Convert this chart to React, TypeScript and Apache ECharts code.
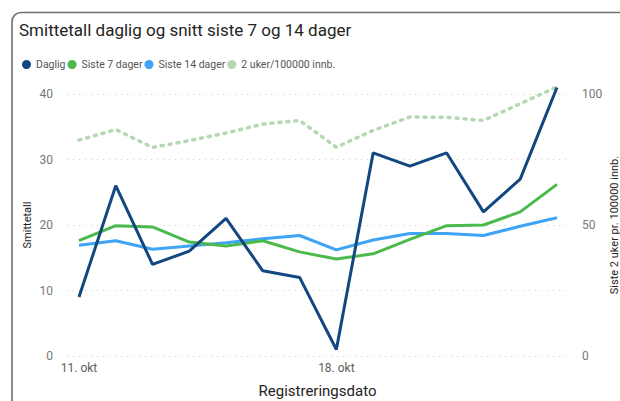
import React, { useEffect, useRef } from "react";
import * as echarts from "echarts";

const days = ["11. okt", "12. okt", "13. okt", "14. okt", "15. okt", "16. okt", "17. okt", "18. okt", "19. okt", "20. okt", "21. okt", "22. okt", "23. okt", "24. okt"];
const daglig = [9, 26, 14, 16, 21, 13, 12, 1, 31, 29, 31, 22, 27, 41];
const siste7 = [17.6, 19.9, 19.7, 17.4, 16.8, 17.6, 15.9, 14.8, 15.6, 17.8, 19.9, 20.0, 22.0, 26.2];
const siste14 = [16.9, 17.6, 16.3, 16.8, 17.3, 17.9, 18.4, 16.2, 17.7, 18.7, 18.7, 18.4, 19.8, 21.1];
const per100k = [82.4, 86.4, 79.6, 82.2, 85.1, 88.5, 89.9, 79.7, 86.1, 91.2, 91.1, 89.9, 96.3, 102.7];
const labelDays = [0, 7];

const FONT = "Roboto";

export default function App() {
  const ref = useRef<HTMLDivElement>(null);
  useEffect(() => {
    if (!ref.current) return;
    const chart = echarts.init(ref.current, null, { renderer: "svg" });
    const pts = (arr: number[]) => arr.map((v, i) => [i, v]);
    chart.setOption({
      animation: false,
      backgroundColor: "#ffffff",
      textStyle: { fontFamily: FONT },
      graphic: [
        {
          type: "rect",
          shape: { x: 12, y: 12.5, width: 640, height: 400, r: 9 },
          style: { fill: "none", stroke: "#6f6f6f", lineWidth: 1.6 },
          silent: true,
        },
      ],
      title: {
        text: "Smittetall daglig og snitt siste 7 og 14 dager",
        left: 14,
        top: 16,
        textStyle: { fontFamily: FONT, fontSize: 17, fontWeight: "normal", color: "#252423" },
      },
      legend: {
        left: 17,
        top: 54,
        icon: "circle",
        itemWidth: 9,
        itemHeight: 9,
        itemGap: 2,
        textStyle: { fontFamily: FONT, fontSize: 10.5, color: "#555555" },
        data: ["Daglig", "Siste 7 dager", "Siste 14 dager", "2 uker/100000 innb."],
      },
      grid: { left: 67, right: 52, top: 94, bottom: 45, outerBoundsMode: "none", containLabel: false },
      xAxis: {
        type: "value",
        min: -0.326,
        max: 13.3,
        name: "Registreringsdato",
        nameLocation: "middle",
        nameGap: 27,
        nameTextStyle: { fontFamily: FONT, fontSize: 15, color: "#252423" },
        axisLine: { show: false },
        axisTick: { show: false },
        splitLine: { show: false },
        axisLabel: {
          customValues: labelDays,
          formatter: (v: number) => days[Math.round(v)] ?? "",
          color: "#605e5c",
          fontSize: 12,
          margin: 6,
        },
      },
      yAxis: [
        {
          type: "value",
          min: 0,
          max: 40,
          interval: 10,
          name: "Smittetall",
          nameLocation: "middle",
          nameGap: 34,
          nameMoveOverlap: false,
          nameTextStyle: { fontFamily: FONT, fontSize: 11, color: "#252423" },
          axisLine: { show: false },
          axisTick: { show: false },
          axisLabel: { color: "#777777", fontSize: 12, margin: 14 },
          splitLine: { lineStyle: { color: "#d0d0d0", type: [1, 5], width: 1 } },
        },
        {
          type: "value",
          min: 0,
          max: 100,
          interval: 50,
          name: "Siste 2 uker pr. 100000 innb.",
          nameLocation: "middle",
          nameGap: 41,
          nameMoveOverlap: false,
          nameRotate: 90,
          nameTextStyle: { fontFamily: FONT, fontSize: 11, color: "#252423" },
          axisLine: { show: false },
          axisTick: { show: false },
          axisLabel: { color: "#777777", fontSize: 12, margin: 14 },
          splitLine: { show: false },
        },
      ],
      series: [
        {
          name: "2 uker/100000 innb.",
          type: "line",
          yAxisIndex: 1,
          data: pts(per100k),
          showSymbol: false,
          clip: false,
          color: "#b5d8b2",
          lineStyle: { width: 3.5, type: [2, 6], cap: "round", color: "#b5d8b2" },
          z: 1,
        },
        {
          name: "Siste 14 dager",
          type: "line",
          data: pts(siste14),
          showSymbol: false,
          clip: false,
          color: "#3fa3f6",
          lineStyle: { width: 3, color: "#3fa3f6" },
          z: 2,
        },
        {
          name: "Siste 7 dager",
          type: "line",
          data: pts(siste7),
          showSymbol: false,
          clip: false,
          color: "#4cb94c",
          lineStyle: { width: 3, color: "#4cb94c" },
          z: 3,
        },
        {
          name: "Daglig",
          type: "line",
          data: pts(daglig),
          showSymbol: false,
          clip: false,
          color: "#12477f",
          lineStyle: { width: 3, color: "#12477f" },
          z: 4,
        },
      ],
    });
    return () => chart.dispose();
  }, []);
  return <div ref={ref} style={{ width: 620, height: 401, position: "absolute", left: 0, top: 0 }} />;
}
